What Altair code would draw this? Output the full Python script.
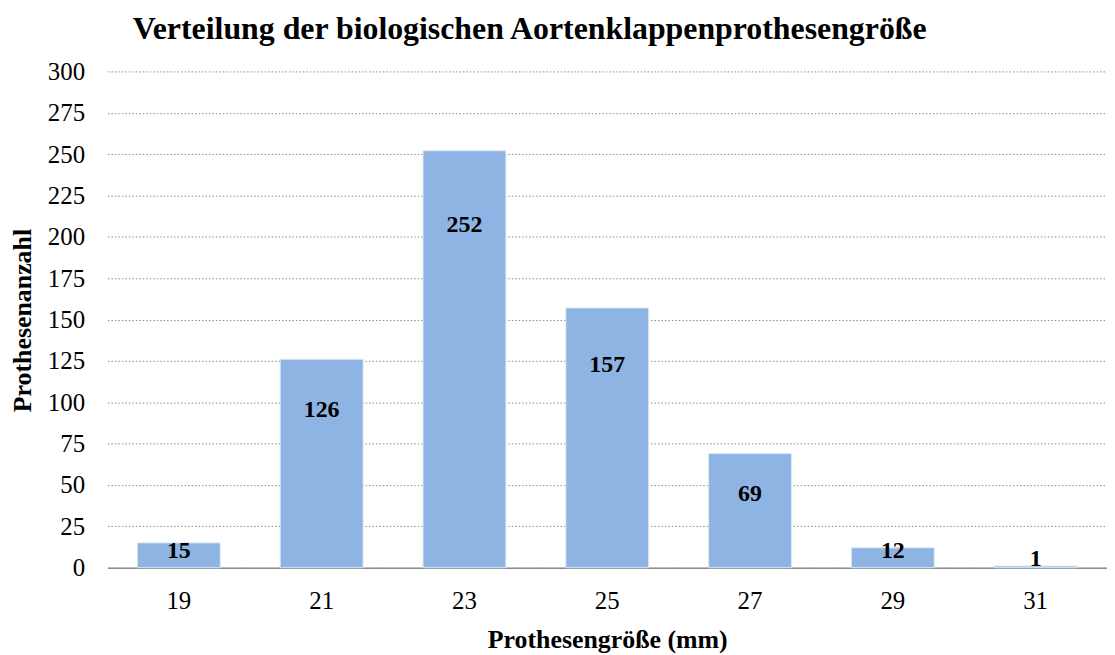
import altair as alt
import pandas as pd

sizes = ["19", "21", "23", "25", "27", "29", "31"]
counts = [15, 126, 252, 157, 69, 12, 1]

df = pd.DataFrame({"size": sizes, "count": counts})

FONT = "Liberation Serif"

base = alt.Chart(df)

bars = base.mark_bar(color="#8EB4E3", stroke="#DCE6F2", strokeWidth=1).encode(
    x=alt.X(
        "size:N",
        sort=sizes,
        scale=alt.Scale(paddingInner=0.42, paddingOuter=0.21),
        axis=alt.Axis(
            title="Prothesengröße (mm)",
            labelAngle=0,
            labelFont=FONT,
            labelFontSize=25,
            labelColor="black",
            labelPadding=21,
            ticks=False,
            domainColor="#8C8C8C",
            domainWidth=1.5,
            titleFont=FONT,
            titleFontSize=26,
            titleFontWeight="bold",
            titleColor="black",
            titlePadding=13,
        ),
    ),
    y=alt.Y(
        "count:Q",
        scale=alt.Scale(domain=[0, 300], nice=False),
        axis=alt.Axis(
            title="Prothesenanzahl",
            values=list(range(0, 301, 25)),
            labelFont=FONT,
            labelFontSize=25,
            labelColor="black",
            labelPadding=23,
            ticks=False,
            domain=False,
            grid=True,
            gridColor="#8C8C8C",
            gridDash=[1.5, 2],
            gridWidth=1,
            titleFont=FONT,
            titleFontSize=26,
            titleFontWeight="bold",
            titleColor="black",
            titleX=-72,
            titleY=250,
        ),
    ),
)

labels = base.transform_calculate(
    lpos="datum.count < 5 ? datum.count + 4.5 : max(0.89 * datum.count - 17, 9.8)"
).mark_text(
    font=FONT, fontSize=24, fontWeight="bold", color="black", baseline="middle"
).encode(
    x=alt.X("size:N", sort=sizes),
    y=alt.Y("lpos:Q"),
    text=alt.Text("count:Q"),
)

chart = (
    alt.layer(bars, labels)
    .properties(
        width=1005,
        height=499,
        autosize="none",
        padding={"left": 100, "top": 62, "right": 0, "bottom": 84},
        title=alt.TitleParams(
            "Verteilung der biologischen Aortenklappenprothesengröße",
            font=FONT,
            fontSize=32,
            fontWeight="bold",
            color="black",
            anchor="middle",
            dx=-78,
            offset=14,
        ),
    )
    .configure_view(stroke=None)
)

chart.save("out.html", embed_options={"renderer": "svg", "actions": False})
